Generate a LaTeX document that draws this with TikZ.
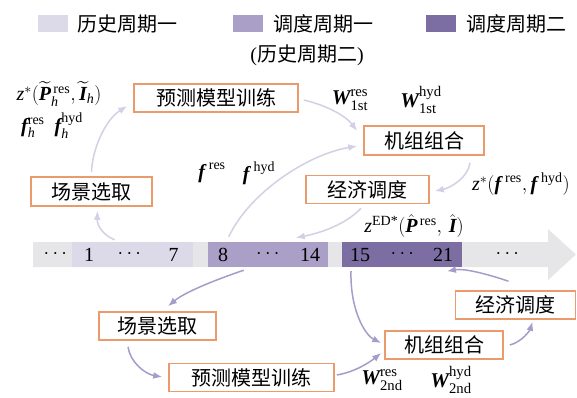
\documentclass[tikz,border=0pt]{standalone}
\usepackage{fix-cm}
\usepackage{amsmath}
\usepackage{fontspec}
\setmainfont{Liberation Serif}
\newfontfamily\cjk{Noto Sans CJK SC}
\usetikzlibrary{arrows.meta,calc}
\definecolor{barbg}{HTML}{E6E6E9}
\definecolor{sa}{HTML}{DCD9E9}
\definecolor{sb}{HTML}{A99FC7}
\definecolor{sc}{HTML}{7C6DA3}
\definecolor{boxc}{HTML}{EB9A6B}
\definecolor{arrA}{HTML}{D3CFE5}
\definecolor{arrB}{HTML}{A79CC9}
\newcommand\bv[1]{\text{\bfseries\itshape #1}}
\newcommand\iv[1]{\text{\normalfont\itshape #1}}
\newcommand\rt[1]{\text{\normalfont #1}}
\begin{document}
\begin{tikzpicture}[x=1pt,y=-1pt,
  box/.style={draw=boxc, line width=1.6pt, fill=white, inner sep=0pt,
    font=\cjk\fontsize{20}{24}\selectfont, minimum height=28pt},
  seg/.style={inner sep=0pt, minimum height=25pt},
  ta/.style={draw=arrA, line width=1.5pt, -{Latex[length=9pt,width=7pt]}},
  tb/.style={draw=arrB, line width=1.5pt, -{Latex[length=9pt,width=7pt]}},
  lab/.style={font=\cjk\fontsize{20}{24}\selectfont, inner sep=0pt},
  num/.style={font=\fontsize{20}{24}\selectfont, inner sep=0pt},
  fm/.style={font=\fontsize{20}{24}\selectfont, inner sep=0pt},
  fw/.style={font=\fontsize{21}{25}\selectfont, inner sep=0pt},
  sq/.style={minimum width=30pt, minimum height=17pt, inner sep=0pt}]
\useasboundingbox (0,0) rectangle (577,397);

% legend
\node[sq, fill=sa] (lg1) at (53,23.5) {};
\node[lab, anchor=west] (lt1) at (77,23.5) {历史周期一};
\node[sq, fill=sb] (lg2) at (247.5,23.5) {};
\node[lab, anchor=west] (lt2) at (273,23.5) {调度周期一};
\node[sq, fill=sc] (lg3) at (441,23.5) {};
\node[lab, anchor=west] (lt3) at (466,23.5) {调度周期二};
\node[num] (lt2b) at (307,55) {({\cjk 历史周期二})};

% timeline
\fill[barbg] (33,242) -- (548,242) -- (548,229) -- (576,254.5) -- (548,280) -- (548,267) -- (33,267) -- cycle;
\node[seg, fill=sa, minimum width=121pt] (seg1) at (132.5,254.5) {};
\node[seg, fill=sb, minimum width=120.5pt] (seg2) at (267.75,254.5) {};
\node[seg, fill=sc, minimum width=120pt] (seg3) at (402,254.5) {};
\node[num] (d0) at (57,254.5) {$\cdots$};
\node[num] (n1) at (89,254.5) {1};
\node[num] (d1) at (131,254.5) {$\cdots$};
\node[num] (n7) at (173.5,254.5) {7};
\node[num] (n8) at (223,254.5) {8};
\node[num] (d2) at (269.5,254.5) {$\cdots$};
\node[num] (n14) at (310,254.5) {14};
\node[num] (n15) at (360,254.5) {15};
\node[num] (d3) at (404,254.5) {$\cdots$};
\node[num] (n21) at (443,254.5) {21};
\node[num] (d4) at (509,254.5) {$\cdots$};

% top boxes
\node[box, minimum width=164pt] (predA) at (216,98) {预测模型训练};
\node[box, minimum width=120pt, minimum height=29pt] (ucA) at (424,140.5) {机组组合};
\node[box, minimum width=123pt] (edA) at (367.5,189.5) {经济调度};
\node[box, minimum width=121pt, minimum height=29pt] (scnA) at (91.5,191.5) {场景选取};

% bottom boxes
\node[box, minimum width=117pt] (scnB) at (157.5,326) {场景选取};
\node[box, minimum width=165pt] (predB) at (251.5,377.5) {预测模型训练};
\node[box, minimum width=118pt] (ucB) at (444,345) {机组组合};
\node[box, minimum width=120pt] (edB) at (515.5,305) {经济调度};

% formulas
\node[fm] (zh) at (59,94) {$\iv{z}^{*}(\widetilde{\bv{P}}{}_{\iv{h}}^{\,\rt{res}},\widetilde{\bv{I}}{}_{\iv{h}})$};
\node[fm] (fh) at (52,126) {$\bv{f}^{\rt{res}}_{\iv{h}}\hspace{10pt}\bv{f}^{\rt{hyd}}_{\iv{h}}$};
\node[fw] (w1r) at (350,100) {$\bv{W}^{\rt{res}}_{\rt{1st}}$};
\node[fw] (w1h) at (421,100) {$\bv{W}^{\rt{hyd}}_{\rt{1st}}$};
\node[fm] (fr) at (212,173) {$\bv{f}^{\;\rt{res}}$};
\node[fm] (fhy) at (259,173) {$\bv{f}^{\;\rt{hyd}}$};
\node[fm] (zf) at (521,184) {$\iv{z}^{*}(\bv{f}^{\;\rt{res}},\bv{f}^{\;\rt{hyd}})$};
\node[fm] (zed) at (414,226) {$\iv{z}^{\rt{ED*}}(\hat{\bv{P}}{}^{\,\rt{res}},\,\hat{\bv{I}})$};
\node[fw] (w2r) at (382,380) {$\bv{W}^{\rt{res}}_{\rt{2nd}}$};
\node[fw] (w2h) at (451,380) {$\bv{W}^{\rt{hyd}}_{\rt{2nd}}$};

% top arrows
\draw[ta] ($(seg1.north)+(-18,-2)$) .. controls (101,234) and (97,224) .. ($(scnA.south)+(6,4)$);
\draw[ta] ($(scnA.north)+(0,-4)$) .. controls (92,150) and (105,120) .. ($(predA.west)+(-6,8)$);
\draw[ta] ($(predA.east)+(5,2)$) .. controls (325,105) and (345,115) .. ($(ucA.west)+(-6,-9.5)$);
\draw[ta] ($(seg2.north)+(-39,-5)$) .. controls (248,195) and (305,155) .. ($(ucA.west)+(-6,5.5)$);
\draw[ta] ($(ucA.south)+(46,7)$) .. controls (468,178) and (450,188) .. ($(edA.east)+(5,1.5)$);
\draw[ta] ($(edA.south)+(-6.5,4)$) .. controls (345,225) and (320,233) .. ($(seg2.north)+(28,-4)$);

% bottom arrows
\draw[tb] ($(seg2.south)+(-24,3)$) .. controls (215,280) and (185,292) .. ($(scnB.north)+(10.5,-5)$);
\draw[tb] ($(scnB.south)+(-29.5,6)$) .. controls (130,362) and (145,374) .. ($(predB.west)+(-6,-0.5)$);
\draw[tb] ($(predB.east)+(2,-2.5)$) .. controls (355,372) and (370,362) .. ($(ucB.west)+(-3,8)$);
\draw[tb] ($(seg3.south)+(-51,4)$) .. controls (350,310) and (365,335) .. ($(ucB.west)+(-3,-2)$);
\draw[tb] ($(ucB.east)+(6,0)$) .. controls (522,342) and (530,330) .. ($(edB.south)+(17,2)$);
\draw[tb] ($(edB.north)+(-7,-9)$) .. controls (490,275) and (465,268) .. ($(seg3.south)+(45,4)$);
\end{tikzpicture}
\end{document}
